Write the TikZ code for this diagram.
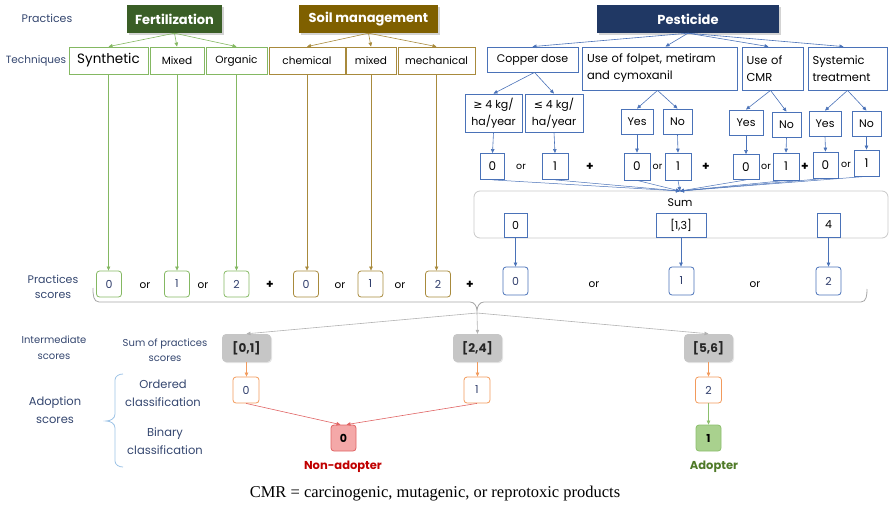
\documentclass[tikz,border=0pt]{standalone}
\usepackage{fontspec}
\setmainfont{Poppins}
\newfontfamily\symf{DejaVu Sans}
\newfontfamily\timesf{Liberation Serif}
\usetikzlibrary{arrows.meta,shadows}
\definecolor{fertc}{HTML}{3A5E26}
\definecolor{soilc}{HTML}{7F6000}
\definecolor{pestc}{HTML}{203864}
\definecolor{gline}{HTML}{84B862}
\definecolor{bline}{HTML}{A88A3C}
\definecolor{pline}{HTML}{4A72B8}
\definecolor{labc}{HTML}{34466F}
\definecolor{numc}{HTML}{2F3D6B}
\definecolor{intf}{HTML}{C6C6C6}
\definecolor{oline}{HTML}{F29A5C}
\definecolor{rfill}{HTML}{F4A8A8}
\definecolor{rline}{HTML}{E06464}
\definecolor{afill}{HTML}{A9D18E}
\definecolor{aline}{HTML}{8CBF6C}
\definecolor{nonc}{HTML}{C00000}
\definecolor{adoc}{HTML}{4F7A28}
\definecolor{sumc}{HTML}{C8C8C8}
\definecolor{brc}{HTML}{9DC3E6}
\begin{document}
\begin{tikzpicture}[x=1pt,y=-1pt,
  every node/.style={inner sep=0pt, font=\fontsize{11}{12}\selectfont},
  lbl/.style={text=labc, align=center, font=\fontsize{11}{15}\selectfont},
  hdr/.style={text=white, font=\fontsize{13}{14}\selectfont\bfseries, minimum height=28, drop shadow={opacity=0.35, shadow xshift=2pt, shadow yshift=-2pt}},
  tb/.style={draw, line width=0.8pt, minimum height=27, text=black, font=\fontsize{10.5}{12}\selectfont},
  gtb/.style={tb, draw=gline},
  btb/.style={tb, draw=bline},
  ptb/.style={draw=pline, line width=0.8pt, text=black, minimum height=25, font=\fontsize{11}{12}\selectfont},
  sc/.style={draw, line width=0.8pt, rounded corners=3pt, minimum width=25, minimum height=26, text=numc, font=\fontsize{11}{12}\selectfont},
  gsc/.style={sc, draw=gline},
  bsc/.style={sc, draw=bline},
  psc/.style={sc, draw=pline},
  ga/.style={draw=gline, line width=0.6pt, -{Triangle[length=4pt,width=3.5pt]}},
  ba/.style={draw=bline, line width=0.6pt, -{Triangle[length=4pt,width=3.5pt]}},
  pa/.style={draw=pline, line width=0.6pt, -{Triangle[length=4pt,width=3.5pt]}},
  gra/.style={draw=black!30, line width=0.6pt, -{Triangle[length=4pt,width=3.5pt]}},
  oa/.style={draw=oline, line width=0.6pt, -{Triangle[length=4pt,width=3.5pt]}},
  ra/.style={draw=rline, line width=0.6pt, -{Triangle[length=4pt,width=3.5pt]}},
  aa/.style={draw=aline, line width=0.6pt, -{Triangle[length=4pt,width=3.5pt]}},
  ortxt/.style={text=black, font=\fontsize{9.5}{10}\selectfont},
  plus/.style={text=black, font=\fontsize{12}{12}\selectfont\bfseries},
  intb/.style={fill=intf, rounded corners=4pt, minimum width=49, minimum height=28, font=\fontsize{12}{12}\selectfont\bfseries, text=black!85, drop shadow={opacity=0.2, shadow xshift=1pt, shadow yshift=-1pt}},
  osc/.style={sc, draw=oline, minimum width=26},
]
\useasboundingbox (0,0) rectangle (889,506);

% left labels
\node[lbl] (lprac) at (47,18) {Practices};
\node[lbl, font=\fontsize{10.5}{14}\selectfont] (ltech) at (36,61) {Techniques};
\node[lbl] (lps) at (53,287) {Practices\\scores};
\node[lbl, font=\fontsize{10}{16}\selectfont] (lint) at (54,348) {Intermediate\\scores};
\node[lbl, font=\fontsize{11.5}{18}\selectfont] (lado) at (55,410) {Adoption\\scores};
\node[lbl, font=\fontsize{10}{15}\selectfont] (lsum) at (165,350) {Sum of practices\\scores};
\node[lbl, font=\fontsize{11.5}{18}\selectfont] (lord) at (163,393) {Ordered\\classification};
\node[lbl, font=\fontsize{11.5}{18}\selectfont] (lbin) at (165,441) {Binary\\classification};

% headers
\node[hdr, fill=fertc, minimum width=95] (fert) at (174.5,19) {Fertilization};
\node[hdr, fill=soilc, minimum width=139] (soil) at (368.5,19) {Soil management};
\node[hdr, fill=pestc, minimum width=182] (pest) at (688,19) {Pesticide};

% techniques
\node[gtb, minimum width=79, font=\fontsize{13.5}{14}\selectfont] (syn) at (108.5,60.5) {Synthetic};
\node[gtb, minimum width=54] (mix) at (177,60.5) {Mixed};
\node[gtb, minimum width=61] (org) at (236.5,60.5) {Organic};
\node[btb, minimum width=76] (chem) at (307,60.5) {chemical};
\node[btb, minimum width=50] (smix) at (371,60.5) {mixed};
\node[btb, minimum width=77] (mech) at (436.5,60.5) {mechanical};
\node[ptb, minimum width=91] (cop) at (532.5,59.5) {Copper dose};
\node[ptb, minimum width=155, minimum height=43, align=left, text width=145, font=\fontsize{11.5}{17}\selectfont] (fol) at (659.5,68.5) {Use of folpet, metiram\\and cymoxanil};
\node[ptb, minimum width=61, minimum height=43, align=left, text width=52, font=\fontsize{11.5}{17}\selectfont] (cmr) at (772.5,68.5) {Use of\\CMR};
\node[ptb, minimum width=79, minimum height=43, align=left, text width=70, font=\fontsize{11.5}{17}\selectfont] (sys) at (847.5,68.5) {Systemic\\treatment};

\draw[ga] (fert.south) -- (syn.north);
\draw[ga] (fert.south) -- (mix.north);
\draw[ga] (fert.south) -- (org.north);
\draw[ba] (soil.south) -- (chem.north);
\draw[ba] (soil.south) -- (smix.north);
\draw[ba] (soil.south) -- (mech.north);
\draw[pa] (pest.south) -- (cop.north);
\draw[pa] (pest.south) -- ([xshift=6]fol.north);
\draw[pa] (pest.south) -- ([xshift=-4]cmr.north);
\draw[pa] (pest.south) -- ([xshift=-4]sys.north);

% pesticide sub boxes
\node[ptb, minimum width=57, minimum height=38, align=center, font=\fontsize{11}{17}\selectfont] (ge) at (493.5,113) {{\symf ≥} 4 kg/\\ha/year};
\node[ptb, minimum width=58, minimum height=38, align=center, font=\fontsize{11}{17}\selectfont] (le) at (554,113) {{\symf ≤} 4 kg/\\ha/year};
\node[ptb, minimum width=32] (fy) at (637,121.5) {Yes};
\node[ptb, minimum width=29] (fn) at (677.5,121.5) {No};
\node[ptb, minimum width=34] (cy) at (746,122.5) {Yes};
\node[ptb, minimum width=29] (cn) at (786.5,124.5) {No};
\node[ptb, minimum width=32] (sy) at (825,123.5) {Yes};
\node[ptb, minimum width=29] (sn) at (866.5,123.5) {No};

\draw[pa] ([xshift=2]cop.south) -- (ge.north);
\draw[pa] ([xshift=2]cop.south) -- (le.north);
\draw[pa] ([xshift=-2]fol.south) -- (fy.north);
\draw[pa] ([xshift=-2]fol.south) -- (fn.north);
\draw[pa] ([xshift=-2]cmr.south) -- (cy.north);
\draw[pa] ([xshift=-2]cmr.south) -- (cn.north);
\draw[pa] (sys.south) -- (sy.north);
\draw[pa] (sys.south) -- (sn.north);

% values
\node[ptb, minimum width=24, minimum height=26, font=\fontsize{12}{12}\selectfont] (v1a) at (492.5,166.5) {0};
\node[ptb, minimum width=26, minimum height=26, font=\fontsize{12}{12}\selectfont] (v1b) at (555,166.5) {1};
\node[ptb, minimum width=26, minimum height=27, font=\fontsize{12}{12}\selectfont] (v2a) at (637,166.5) {0};
\node[ptb, minimum width=26, minimum height=27, font=\fontsize{12}{12}\selectfont] (v2b) at (678,166.5) {1};
\node[ptb, minimum width=26, minimum height=25, font=\fontsize{12}{12}\selectfont] (v3a) at (746,167) {0};
\node[ptb, minimum width=26, minimum height=27, font=\fontsize{12}{12}\selectfont] (v3b) at (786,166.5) {1};
\node[ptb, minimum width=25, minimum height=26, font=\fontsize{12}{12}\selectfont] (v4a) at (825.5,165) {0};
\node[ptb, minimum width=25, minimum height=26, font=\fontsize{12}{12}\selectfont] (v4b) at (866.5,163) {1};

\draw[pa] (ge.south) -- (v1a.north);
\draw[pa] (le.south) -- (v1b.north);
\draw[pa] (fy.south) -- (v2a.north);
\draw[pa] (fn.south) -- (v2b.north);
\draw[pa] (cy.south) -- (v3a.north);
\draw[pa] (cn.south) -- (v3b.north);
\draw[pa] (sy.south) -- (v4a.north);
\draw[pa] (sn.south) -- (v4b.north);

\node[ortxt] (or1) at (521,167) {or};
\node[ortxt] (or2) at (657.5,167) {or};
\node[ortxt] (or3) at (766,167) {or};
\node[ortxt] (or4) at (846,165) {or};
\node[plus] (pl1) at (590,167) {+};
\node[plus] (pl2) at (706,167) {+};
\node[plus] (pl3) at (805,167) {+};

% sum box
\draw[draw=sumc, line width=0.8pt, rounded corners=6pt] (474,191) rectangle (888,238);
\coordinate (sumpt) at (680,191);
\node[text=black, font=\fontsize{11}{12}\selectfont] (sumt) at (680,203) {Sum};
\foreach \v in {v1a,v1b,v2a,v2b,v3a,v3b,v4a,v4b}
  \draw[pa, line width=0.5pt] (\v.south) -- (sumpt);

\node[ptb, minimum width=23, minimum height=24] (s0) at (515.5,225) {0};
\node[ptb, minimum width=50, minimum height=24] (s13) at (681,225) {[1,3]};
\node[ptb, minimum width=23, minimum height=24] (s4) at (828.5,225) {4};

% practice scores
\node[gsc] (g0) at (109,284) {0};
\node[gsc] (g1) at (177,284) {1};
\node[gsc] (g2) at (236.5,284) {2};
\node[bsc] (b0) at (306,284) {0};
\node[bsc] (b1) at (370.5,284) {1};
\node[bsc] (b2) at (438,284) {2};
\node[psc, minimum height=28] (p0) at (515.5,281) {0};
\node[psc, minimum height=28] (p1) at (681.5,281) {1};
\node[psc, minimum height=28] (p2) at (828.5,281) {2};

\draw[ga] (syn.south) -- (syn.south |- g0.north);
\draw[ga] (mix.south) -- (mix.south |- g1.north);
\draw[ga] (org.south) -- (org.south |- g2.north);
\draw[ba] (chem.south) -- (chem.south |- b0.north);
\draw[ba] (smix.south) -- (smix.south |- b1.north);
\draw[ba] (mech.south) -- (mech.south |- b2.north);
\draw[pa] (s0.south) -- (p0.north);
\draw[pa] (s13.south) -- (s13.south |- p1.north);
\draw[pa] (s4.south) -- (p2.north);

\node[ortxt, font=\fontsize{10.5}{12}\selectfont] (o1) at (145,286) {or};
\node[ortxt, font=\fontsize{10.5}{12}\selectfont] (o2) at (203,286) {or};
\node[ortxt, font=\fontsize{10.5}{12}\selectfont] (o3) at (340,286) {or};
\node[ortxt, font=\fontsize{10.5}{12}\selectfont] (o4) at (400,286) {or};
\node[ortxt, font=\fontsize{10.5}{12}\selectfont] (o5) at (594,285) {or};
\node[ortxt, font=\fontsize{10.5}{12}\selectfont] (o6) at (755,285) {or};
\node[plus] (q1) at (270,285) {+};
\node[plus] (q2) at (470,285) {+};

% brace
\draw[draw=black!35, line width=0.8pt] (93,288) to[out=-90,in=180] (99,302) -- (470,302) to[out=0,in=90] (477,311) to[out=90,in=180] (484,302) -- (861,302) to[out=0,in=-90] (867,289);
\coordinate (brtip) at (477,313);

% intermediate
\node[intb] (i01) at (246.5,348) {[0,1]};
\node[intb] (i24) at (477.5,348) {[2,4]};
\node[intb] (i56) at (708.5,348) {[5,6]};
\draw[gra] (brtip) -- (i01.north);
\draw[gra] (brtip) -- (i24.north);
\draw[gra] (brtip) -- (i56.north);

% ordered
\node[osc] (od0) at (246,390) {0};
\node[osc] (od1) at (477,390) {1};
\node[osc] (od2) at (708.5,390) {2};
\draw[oa] (i01.south) -- (i01.south |- od0.north);
\draw[oa] (i24.south) -- (i24.south |- od1.north);
\draw[oa] (i56.south) -- (i56.south |- od2.north);

% binary
\node[sc, fill=rfill, draw=rline, text=black, font=\fontsize{11}{12}\selectfont\bfseries] (bn0) at (343.5,438) {0};
\node[sc, fill=afill, draw=aline, text=black, font=\fontsize{11}{12}\selectfont\bfseries] (bn1) at (708.5,438) {1};
\draw[ra] (od0.south) -- ([xshift=-3]bn0.north);
\draw[ra] (od1.south) -- ([xshift=3]bn0.north);
\draw[aa] (od2.south) -- (bn1.north);

\node[text=nonc, font=\fontsize{11.5}{12}\selectfont\bfseries] (nonl) at (343,467) {Non-adopter};
\node[text=adoc, font=\fontsize{11.5}{12}\selectfont\bfseries] (adol) at (714,467) {Adopter};

% adoption brace
\draw[draw=brc, line width=0.8pt] (123,374) to[out=180,in=90] (115,380) -- (115,414) to[out=-90,in=0] (106,421) to[out=0,in=90] (115,428) -- (115,461) to[out=-90,in=180] (123,467);

% footer
\node[font=\timesf\fontsize{16.5}{18}\selectfont, text=black] (foot) at (435,494) {CMR = carcinogenic, mutagenic, or reprotoxic products};
\end{tikzpicture}
\end{document}
